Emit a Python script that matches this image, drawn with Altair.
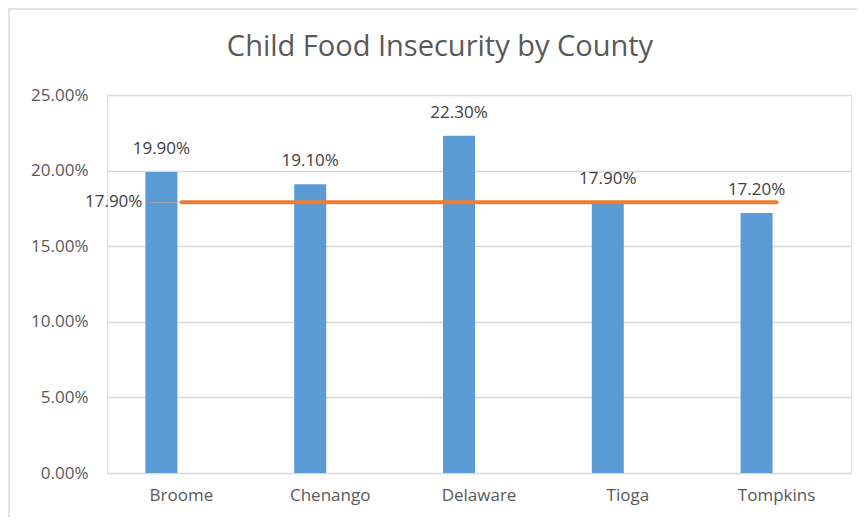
import altair as alt
import pandas as pd

counties = ["Broome", "Chenango", "Delaware", "Tioga", "Tompkins"]
rates = [0.199, 0.191, 0.223, 0.179, 0.172]
average = [0.179, 0.179, 0.179, 0.179, 0.179]
y_ticks = [0.0, 0.05, 0.10, 0.15, 0.20, 0.25]

df = pd.DataFrame({"county": counties, "rate": rates, "avg": average})

FONT = "Open Sans"
BLUE = "#5B9BD5"
ORANGE = "#ED7D31"

x_enc = alt.X("county:N", sort=counties, title=None,
              scale=alt.Scale(paddingInner=0, paddingOuter=0),
              axis=alt.Axis(labelAngle=0, domain=False, ticks=False, labelPadding=14,
                            labelFontSize=17, labelColor="#595959", labelFont=FONT))
y_enc = alt.Y("rate:Q", title=None,
              scale=alt.Scale(domain=[0, 0.25], nice=False),
              axis=alt.Axis(values=y_ticks, format=".2%", domain=False, ticks=False,
                            labelPadding=19, labelFontSize=17, labelColor="#595959",
                            labelFont=FONT, gridColor="#d9d9d9", gridWidth=1.3))

base = alt.Chart(df)

frame = base.transform_filter("datum.county == 'Broome'").mark_rect(
    fill=None, stroke="#d9d9d9", strokeWidth=1.5
).encode(x=alt.value(-98), x2=alt.value(780), y=alt.value(-86), y2=alt.value(470))

bars = base.mark_bar(size=32, xOffset=-20, color=BLUE).encode(x=x_enc, y=y_enc)

labels = base.mark_text(xOffset=-20, dy=-18, baseline="alphabetic", fontSize=17,
                        font=FONT, color="#404040").encode(
    x=alt.X("county:N", sort=counties), y="rate:Q",
    text=alt.Text("rate:Q", format=".2%"))

line = base.mark_line(color=ORANGE, strokeWidth=4, strokeCap="round").encode(
    x=alt.X("county:N", sort=counties), y=alt.Y("avg:Q"))

first = base.transform_filter("datum.county == 'Broome'")
leader = first.mark_rule(color="#a6a6a6", strokeWidth=1, xOffset=-31, x2Offset=-3).encode(
    x=alt.X("county:N", sort=counties), x2=alt.X2("county"), y=alt.Y("avg:Q"))
avg_label = first.mark_text(align="right", baseline="middle", dx=-39, fontSize=17,
                            font=FONT, color="#404040").encode(
    x=alt.X("county:N", sort=counties), y=alt.Y("avg:Q"),
    text=alt.Text("avg:Q", format=".2%"))

chart = alt.layer(frame, bars, labels, leader, line, avg_label).properties(
    width=744, height=378,
    title=alt.TitleParams("Child Food Insecurity by County", font=FONT, fontSize=29,
                          fontWeight="normal", color="#595959", anchor="middle",
                          baseline="alphabetic", dy=81, dx=-39),
    autosize=alt.AutoSizeParams(type="none"),
    padding={"left": 99, "top": 87, "right": 6, "bottom": 44},
).configure_view(stroke=None).configure(background="white")

chart.save("out.html", embed_options={"renderer": "svg", "actions": False})
